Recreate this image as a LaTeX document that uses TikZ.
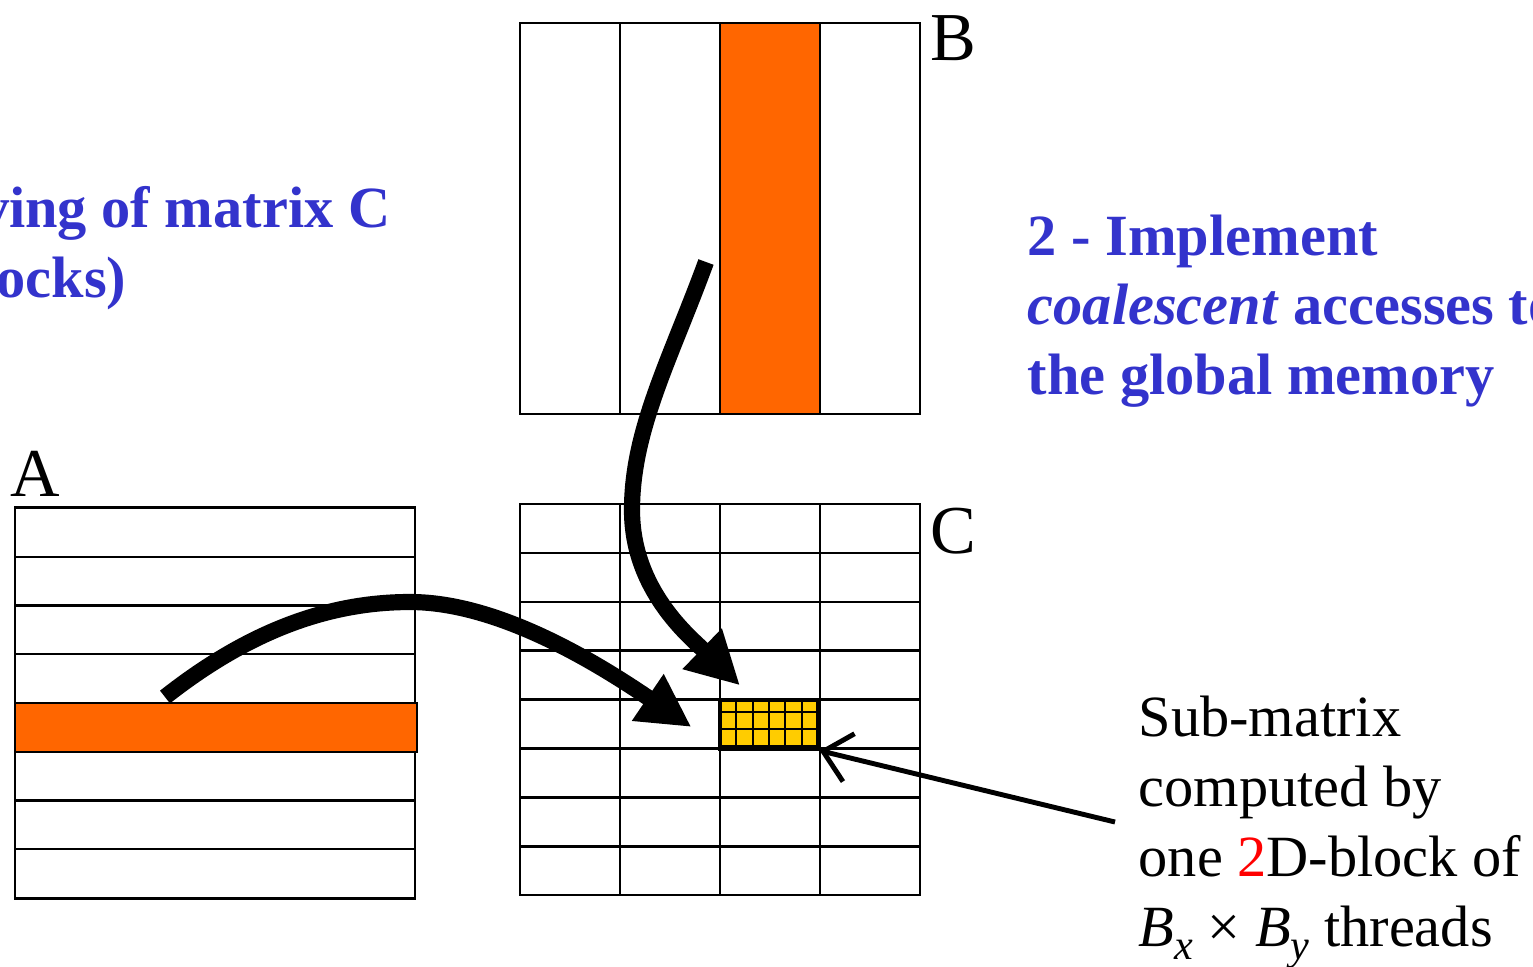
\documentclass[tikz,border=0pt]{standalone}
\usepackage{fontspec}
\setmainfont{Liberation Serif}
\usepackage{xcolor}
\usepackage{tikz}
\usetikzlibrary{arrows.meta, positioning, calc}
\definecolor{slideblue}{RGB}{51, 51, 204}
\definecolor{tileorange}{RGB}{255, 102, 0}
\definecolor{tileyellow}{RGB}{255, 204, 0}
\newcommand{\thr}[1]{\textit{B}\raisebox{-0.22em}{\fontsize{12}{12}\selectfont\textit{#1}}}

\begin{document}
\begin{tikzpicture}[
    x=0.01cm, y=-0.01cm,
    mat/.style={rectangle, draw, line width=0.7pt, minimum width=4cm, minimum height=3.91cm, inner sep=0pt},
    gridline/.style={line width=0.7pt},
    strip/.style={rectangle, draw, line width=0.7pt, fill=tileorange, inner sep=0pt},
    letter/.style={font=\fontsize{19.5}{20}\selectfont, inner sep=0pt, anchor=base west},
    bluetext/.style={font=\bfseries\fontsize{16.6}{19.8}\selectfont, text=slideblue, inner sep=0pt},
    blacktext/.style={font=\fontsize{16.6}{19.9}\selectfont, inner sep=0pt, align=left, anchor=north west},
    bigarrow/.style={line width=4.6pt, -{Triangle[length=15pt, width=15pt]}},
    thinarrow/.style={line width=1.4pt, -{Straight Barb[length=7.5pt, width=14pt]}}
]
\useasboundingbox (0,0) rectangle (1533,966);

% the three matrices
\node[mat] (B) at (720,218.5) {};
\node[mat] (A) at (215,703) {};
\node[mat] (C) at (720,699.5) {};

% column blocks of B
\foreach \x in {620,720,820}
    \draw[gridline] (\x,23) -- (\x,414);
% row blocks of A
\foreach \k in {1,...,7}
    \draw[gridline] (15,508+\k*48.75) -- (415,508+\k*48.75);
% tiles of C
\foreach \x in {620,720,820}
    \draw[gridline] (\x,504) -- (\x,895);
\foreach \k in {1,...,7}
    \draw[gridline] (520,504+\k*48.9) -- (920,504+\k*48.9);

\node[strip, minimum width=1cm, minimum height=3.91cm] (colB) at (770,218.5) {};
\node[strip, minimum width=4.02cm, minimum height=0.49cm] (rowA) at (216,727.5) {};

% sub-matrix of one block
\node[rectangle, draw, line width=0.9pt, fill=tileyellow, minimum width=0.98cm, minimum height=0.49cm, inner sep=0pt] (sub) at (769,724.5) {};
\foreach \k in {1,...,5}
    \draw[line width=0.6pt] (720+\k*16.33,700) -- (720+\k*16.33,749);
\foreach \y in {712,729,746}
    \draw[line width=0.6pt] (720,\y) -- (818,\y);

\node[letter] (labB) at (930,60) {B};
\node[letter] (labA) at (10,496) {A};
\node[letter] (labC) at (930,553) {C};

\node[bluetext, anchor=base east] (tileA) at (391,227) {ving of matrix C};
\node[bluetext, anchor=base east] (tileB) at (127,297) {ocks)};
\node[bluetext, align=left, anchor=north west] (coal) at (1027,214) {2 - Implement\\\textit{coalescent} accesses to\\the global memory};

\node[blacktext] (note) at (1138,695) {Sub-matrix\\computed by\\one \textcolor{red}{2}D-block of\\\thr{x} × \thr{y} threads};

\coordinate (fromA) at (165,697);
\coordinate (fromB) at (706,262);
\coordinate (fromNote) at (1115,822);

\draw[bigarrow] (fromA) .. controls (250,630) and (330,602) .. (410,602)
    .. controls (500,602) and (600,665) .. ($(sub.west)+(-27,2.5)$);
\draw[bigarrow] (fromB) .. controls (670,360) and (632,430) .. (632,510)
    .. controls (632,590) and (690,637) .. ($(sub.north)+(-29,-13)$);
\draw[thinarrow] (fromNote) -- (sub.south east);
\end{tikzpicture}
\end{document}
